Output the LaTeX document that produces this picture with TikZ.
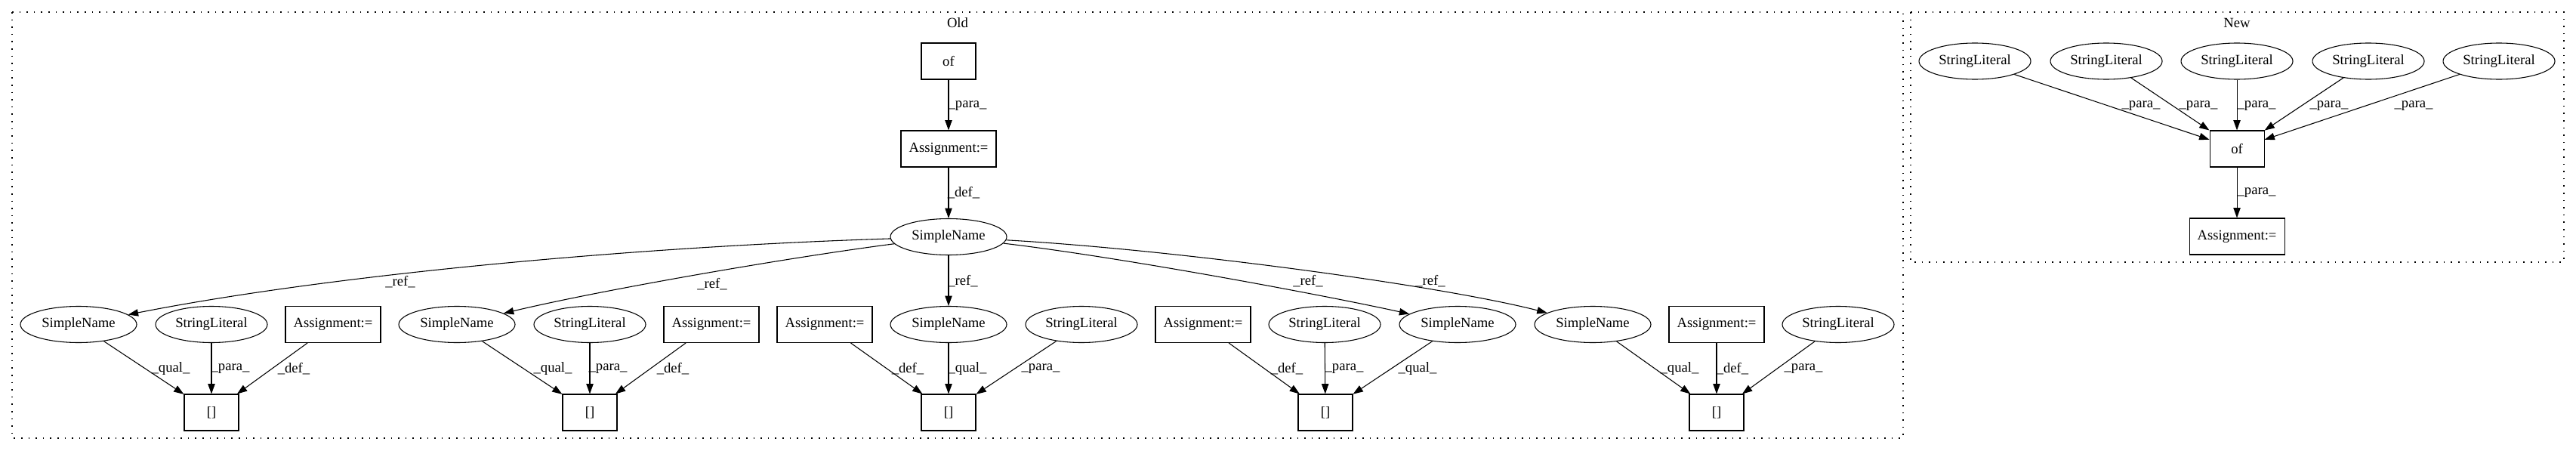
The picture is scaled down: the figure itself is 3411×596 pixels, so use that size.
\documentclass[tikz,border=0pt]{standalone}
\usepackage{fontspec}
\setmainfont{Liberation Serif}
\usetikzlibrary{arrows.meta,shapes.geometric}
\tikzset{
  every node/.style={font=\fontsize{14pt}{16pt}\selectfont},
  ell/.style={draw, ellipse, line width=0.8pt, inner sep=0pt, minimum height=36pt},
  sn/.style={ell, minimum width=115.5pt},
  sl/.style={ell, minimum width=111pt},
  rbox/.style={draw, rectangle, line width=0.8pt, inner sep=0pt, minimum height=36pt},
  abox/.style={rbox, minimum width=94.5pt},
  sbox/.style={rbox, minimum width=54pt},
  conn/.style={line width=0.8pt, -{Triangle[length=10pt,width=7pt]}},
  lab/.style={inner sep=0pt},
  cluster/.style={line width=0.9pt, dash pattern=on 1.2pt off 6pt},
}
\begin{document}
\begin{tikzpicture}[x=0.75pt, y=-0.75pt]
\fill[white] (0,0) rectangle (3411,596);
\useasboundingbox (0,0) rectangle (3411,596);
% clusters
\draw[cluster] (16,16) rectangle (2520,580);
\node (oldlab) at (1268,30) {Old};
\draw[cluster] (2530,16) rectangle (3395,347);
\node (newlab) at (2962,30) {New};
% Old nodes
\node[sbox] (of1) at (1256,81) {of};
\node[abox] (asg0) at (1256,197) {Assignment:=};
\node[sn] (root) at (1256,313.5) {SimpleName};
\node[sn] (sn1) at (104,429.5) {SimpleName};
\node[sl] (sl1) at (280,429.5) {StringLiteral};
\node[abox] (a1) at (441,429.5) {Assignment:=};
\node[sn] (sn2) at (605,429.5) {SimpleName};
\node[sl] (sl2) at (781,429.5) {StringLiteral};
\node[abox] (a2) at (942,429.5) {Assignment:=};
\node[abox] (a3) at (1092,429.5) {Assignment:=};
\node[sn] (sn3) at (1256,429.5) {SimpleName};
\node[sl] (sl3) at (1432,429.5) {StringLiteral};
\node[abox] (a4) at (1593,429.5) {Assignment:=};
\node[sl] (sl4) at (1754,429.5) {StringLiteral};
\node[sn] (sn4) at (1930,429.5) {SimpleName};
\node[sn] (sn5) at (2109,429.5) {SimpleName};
\node[abox] (a5) at (2273,429.5) {Assignment:=};
\node[sl] (sl5) at (2434,429.5) {StringLiteral};
\node[sbox] (b1) at (280,546) {[]};
\node[sbox] (b2) at (781,546) {[]};
\node[sbox] (b3) at (1256,546) {[]};
\node[sbox] (b4) at (1755,546) {[]};
\node[sbox] (b5) at (2273,546) {[]};
% Old edges
\draw[conn] (of1) -- (asg0) node[lab] at (1281,140) {\_para\_};
\draw[conn] (asg0) -- (root) node[lab] at (1276,255) {\_def\_};
\draw[conn] (root) -- (sn3) node[lab] at (1275,372) {\_ref\_};
\draw[conn] (root) .. controls (829,327) and (430,365) .. (sn1) node[lab] at (530,373) {\_ref\_};
\draw[conn] (root) .. controls (1050,340) and (800,383) .. (sn2) node[lab] at (943,376) {\_ref\_};
\draw[conn] (root) .. controls (1480,340) and (1740,388) .. (sn4) node[lab] at (1732,372) {\_ref\_};
\draw[conn] (root) .. controls (1550,330) and (1903,377) .. (sn5) node[lab] at (1894,372) {\_ref\_};
\draw[conn] (sn1) -- (b1) node[lab] at (226,488) {\_qual\_};
\draw[conn] (sl1) -- (b1) node[lab] at (305,488) {\_para\_};
\draw[conn] (a1) -- (b1) node[lab] at (389,488) {\_def\_};
\draw[conn] (sn2) -- (b2) node[lab] at (732,488) {\_qual\_};
\draw[conn] (sl2) -- (b2) node[lab] at (805,488) {\_para\_};
\draw[conn] (a2) -- (b2) node[lab] at (891,488) {\_def\_};
\draw[conn] (a3) -- (b3) node[lab] at (1202,488) {\_def\_};
\draw[conn] (sn3) -- (b3) node[lab] at (1281,488) {\_qual\_};
\draw[conn] (sl3) -- (b3) node[lab] at (1378,488) {\_para\_};
\draw[conn] (a4) -- (b4) node[lab] at (1704,488) {\_def\_};
\draw[conn] (sl4) -- (b4) node[lab] at (1780,488) {\_para\_};
\draw[conn] (sn4) -- (b4) node[lab] at (1877,488) {\_qual\_};
\draw[conn] (sn5) -- (b5) node[lab] at (2224,488) {\_qual\_};
\draw[conn] (a5) -- (b5) node[lab] at (2294,488) {\_def\_};
\draw[conn] (sl5) -- (b5) node[lab] at (2388,488) {\_para\_};
% New nodes
\node[sl] (ns1) at (2615,81) {StringLiteral};
\node[sl] (ns2) at (2789,81) {StringLiteral};
\node[sl] (ns3) at (2962,81) {StringLiteral};
\node[sl] (ns4) at (3136,81) {StringLiteral};
\node[sl] (ns5) at (3309,81) {StringLiteral};
\node[sbox] (of2) at (2962,197) {of};
\node[abox] (asg2) at (2962,313) {Assignment:=};
% New edges
\draw[conn] (ns1) -- (of2) node[lab] at (2835,140) {\_para\_};
\draw[conn] (ns2) -- (of2) node[lab] at (2911,140) {\_para\_};
\draw[conn] (ns3) -- (of2) node[lab] at (2988,140) {\_para\_};
\draw[conn] (ns4) -- (of2) node[lab] at (3084,140) {\_para\_};
\draw[conn] (ns5) -- (of2) node[lab] at (3196,140) {\_para\_};
\draw[conn] (of2) -- (asg2) node[lab] at (2988,255) {\_para\_};
\end{tikzpicture}
\end{document}
